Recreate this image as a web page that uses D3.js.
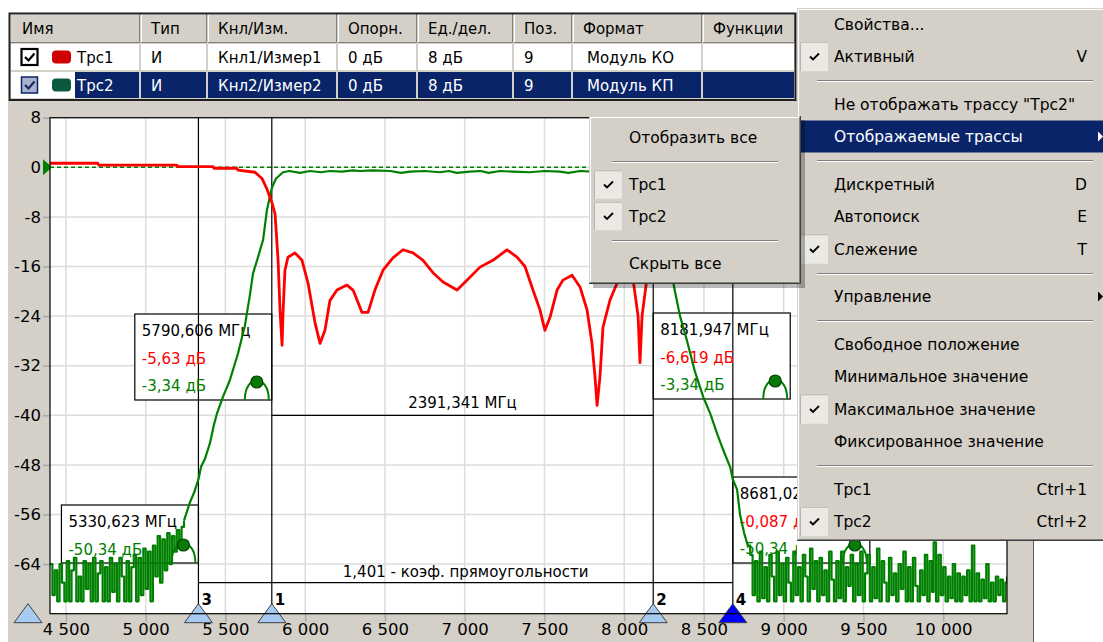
<!DOCTYPE html>
<html>
<head>
<meta charset="utf-8">
<script src="https://cdn.jsdelivr.net/npm/d3@7"></script>
<style>
  body { margin: 0; background: #fff; }
  svg { display: block; font-family: "DejaVu Sans", sans-serif; }
</style>
</head>
<body>
<svg id="c" width="1103" height="642"></svg>
<script>
// ---- данные ----
const colNames = ['Имя', 'Тип', 'Кнл/Изм.', 'Опорн.', 'Ед./дел.', 'Поз.', 'Формат', 'Функции'];
const rows = [
  ['Трс1', 'И', 'Кнл1/Измер1', '0 дБ', '8 дБ', '9', 'Модуль КО', ''],
  ['Трс2', 'И', 'Кнл2/Измер2', '0 дБ', '8 дБ', '9', 'Модуль КП', '']
];
const xTicks = [4500, 5000, 5500, 6000, 6500, 7000, 7500, 8000, 8500, 9000, 9500, 10000];
const yTicks = [8, 0, -8, -16, -24, -32, -40, -48, -56, -64];

// Трс1 – модуль КО (МГц, дБ)
const trc1 = [
  [4400, 0.65], [4700, 0.65], [4706, 0.35], [5196, 0.35], [5202, 0.1], [5422, 0.1], [5428, -0.15],
  [5572, -0.15], [5578, -0.45], [5685, -0.8], [5729, -1.8], [5760, -3.5], [5790.6, -5.63], [5811, -7.5],
  [5830, -15], [5842, -23], [5855, -28.7], [5861, -23.5], [5873, -16.6], [5892, -14.5], [5936, -13.8],
  [5980, -15], [6018, -18.7], [6061, -25], [6093, -28.4], [6124, -26.3], [6155, -21.5], [6199, -19.8],
  [6262, -19], [6300, -19.8], [6356, -23.4], [6394, -23.4], [6437, -19.8], [6488, -16.6], [6550, -14.6],
  [6613, -13.3], [6676, -13.8], [6739, -15], [6801, -17], [6864, -18.5], [6952, -19.8], [7014, -18.2],
  [7096, -16.1], [7177, -15], [7265, -13.3], [7328, -14.5], [7378, -16], [7428, -19.8], [7472, -23],
  [7503, -26.3], [7535, -24.2], [7579, -19.8], [7616, -18.2], [7673, -17.4], [7723, -19.3], [7767, -23],
  [7798, -28.4], [7817, -33.8], [7830, -38.4], [7848, -33.8], [7867, -25.8], [7911, -21.4], [7955, -18.7],
  [8018, -17.7], [8055, -18], [8087, -24], [8099, -31.5], [8112, -24], [8137, -19], [8162, -12],
  [8181.9, -6.62], [8206, -3], [8256, -1], [8350, -0.3], [8681, -0.087], [9100, 0.2], [9700, 0.3], [10400, 0.4]
];

// Трс2 – модуль КП (МГц, дБ): шум ниже полосы, полоса со скатами, шум выше полосы
const trc2Low = [
  [4400, -64], [4415, -69], [4430, -65], [4445, -70], [4460, -64], [4475, -67], [4490, -70], [4505, -63.5],
  [4520, -70], [4535, -65], [4550, -63], [4565, -70], [4580, -66], [4595, -70], [4610, -63.5], [4625, -68],
  [4640, -64], [4655, -70], [4670, -63], [4685, -70], [4700, -65.5], [4715, -63.5], [4730, -70], [4745, -64.5],
  [4760, -70], [4775, -63], [4790, -68.5], [4805, -64], [4820, -70], [4835, -63], [4850, -66], [4865, -70],
  [4880, -63.5], [4895, -70], [4910, -64.5], [4925, -62.5], [4940, -70], [4955, -63], [4970, -69], [4985, -61.5],
  [5000, -68], [5015, -62], [5030, -70], [5045, -61], [5060, -66], [5075, -59.5], [5090, -67], [5105, -60],
  [5120, -65], [5135, -59], [5150, -64], [5165, -59.5], [5180, -62], [5195, -58.5], [5210, -60.5], [5225, -58],
  [5240, -57]
];
const trc2Band = [
  [5240, -57], [5278, -54], [5303, -52.5], [5330.6, -50.34], [5347, -48.3], [5372, -47], [5403, -44.5],
  [5428, -41.5], [5447, -39.7], [5485, -37], [5528, -34.3], [5579, -30], [5622, -25.5], [5654, -20.5],
  [5673, -17.1], [5704, -14.5], [5736, -11.7], [5760, -6.9], [5790.6, -3.34], [5817, -1.8], [5861, -0.8],
  [5900, -0.6], [5967, -0.9], [6030, -0.6], [6100, -0.8], [6155, -0.6], [6230, -0.7], [6300, -0.5],
  [6343, -0.6], [6420, -0.5], [6532, -0.6], [6600, -0.9], [6657, -0.7], [6750, -0.6], [6845, -0.8],
  [6900, -0.6], [6950, -0.9], [7033, -0.7], [7100, -0.6], [7150, -0.9], [7221, -0.6], [7300, -0.7],
  [7409, -0.8], [7500, -0.6], [7597, -0.7], [7650, -0.9], [7723, -0.6], [7800, -0.7], [7848, -0.8],
  [7973, -0.9], [8060, -1.1], [8099, -1.3], [8150, -2],
  [8181.9, -3.34], [8224, -8], [8275, -14], [8318, -20], [8350, -24], [8394, -28], [8444, -33], [8495, -37],
  [8539, -39.7], [8583, -43], [8621, -45.6], [8665, -48.4], [8681, -50.34], [8708, -52], [8726, -56],
  [8752, -59], [8775, -61]
];
const trc2High = [
  [8775, -61], [8790, -62.5], [8805, -69], [8820, -63.5], [8835, -70], [8850, -62], [8865, -69.5], [8880, -64.5],
  [8895, -70], [8910, -62.5], [8925, -66], [8940, -70], [8955, -62], [8970, -69], [8985, -64], [9000, -70],
  [9015, -63], [9030, -67], [9045, -70], [9060, -62], [9075, -69], [9090, -64.5], [9105, -70], [9120, -62.5],
  [9135, -66], [9150, -70], [9165, -61.5], [9180, -68], [9195, -63.5], [9210, -70], [9225, -63], [9240, -69],
  [9255, -65], [9270, -70], [9285, -62], [9300, -66.5], [9315, -70], [9330, -63.5], [9345, -69.5], [9360, -62],
  [9375, -70], [9390, -64.5], [9405, -67.5], [9420, -62.5], [9435, -70], [9450, -64], [9465, -69], [9480, -62],
  [9495, -70], [9510, -65.5], [9525, -62.5], [9540, -70], [9555, -64.5], [9570, -69.5], [9585, -61.5], [9600, -70],
  [9615, -63.5], [9630, -67], [9645, -70], [9660, -63], [9675, -69], [9690, -65.5], [9705, -70], [9720, -64],
  [9735, -68], [9750, -62], [9765, -70], [9780, -64.5], [9795, -70], [9810, -63], [9825, -67.5], [9840, -70],
  [9855, -65], [9870, -69], [9885, -62.5], [9900, -70], [9915, -63.5], [9930, -68.5], [9940, -60.5], [9955, -70],
  [9970, -62.5], [9985, -69], [10000, -64.5], [10015, -70], [10030, -66], [10045, -69.5], [10060, -64],
  [10075, -70], [10090, -65.5], [10105, -70], [10120, -66], [10135, -69], [10150, -65], [10165, -70],
  [10180, -61], [10195, -70], [10210, -65.5], [10225, -70], [10240, -66.5], [10255, -69.5], [10270, -64],
  [10285, -70], [10300, -67], [10315, -70], [10330, -66], [10345, -69], [10360, -66.5], [10375, -70],
  [10390, -67], [10400, -66]
];

// маркеры: номер, частота, значение Трс1, значение Трс2
const markers = [
  { id: 3, f: 5330.623, v1: null, v2: -50.34 },
  { id: 1, f: 5790.606, v1: -5.63, v2: -3.34 },
  { id: 2, f: 8181.947, v1: -6.619, v2: -3.34 },
  { id: 4, f: 8681.023, v1: -0.087, v2: -50.34 }
];
const activeMarker = 4;

const menuItems = [
  { t: 'Свойства...' },
  { t: 'Активный', key: 'V', check: true },
  { sep: true },
  { t: 'Не отображать трассу "Трс2"' },
  { t: 'Отображаемые трассы', sub: true, hl: true },
  { sep: true },
  { t: 'Дискретный', key: 'D' },
  { t: 'Автопоиск', key: 'E' },
  { t: 'Слежение', key: 'T', check: true },
  { sep: true },
  { t: 'Управление', sub: true },
  { sep: true },
  { t: 'Свободное положение' },
  { t: 'Минимальное значение' },
  { t: 'Максимальное значение', check: true },
  { t: 'Фиксированное значение' },
  { sep: true },
  { t: 'Трс1', key: 'Ctrl+1' },
  { t: 'Трс2', key: 'Ctrl+2', check: true }
];
const subItems = [
  { t: 'Отобразить все' },
  { sep: true },
  { t: 'Трс1', check: true },
  { t: 'Трс2', check: true },
  { sep: true },
  { t: 'Скрыть все' }
];

// ---- разметка ----
const GRAY = '#d4d0c8', NAVY = '#0a246a';
const RED = '#ff0000', GREEN = '#008000';
const svg = d3.select('#c');
const plot = { l: 50, r: 1007, t: 117.7, b: 613.7 };

const x = d3.scaleLinear().domain([4400, 10400]).range([plot.l, plot.r]);
const y = d3.scaleLinear().domain([-72, 8]).range([plot.b, plot.t]);
const ru = d3.formatLocale({ decimal: ',', thousands: ' ', grouping: [3], currency: ['', ''] });
const comma = v => String(v).replace('.', ',');

// панель графика
svg.append('rect').attr('x', 8).attr('y', 100).attr('width', 1025).attr('height', 542).attr('fill', GRAY);
svg.append('line').attr('x1', 1033.5).attr('x2', 1033.5).attr('y1', 100).attr('y2', 642).attr('stroke', '#606060');
svg.append('rect').attr('x', plot.l).attr('y', plot.t).attr('width', plot.r - plot.l).attr('height', plot.b - plot.t)
  .attr('fill', '#fff');

svg.append('defs').append('clipPath').attr('id', 'clip')
  .append('rect').attr('x', plot.l).attr('y', plot.t).attr('width', plot.r - plot.l).attr('height', plot.b - plot.t);

// сетка
const grid = svg.append('g').attr('stroke', '#dcdcdc').attr('stroke-width', 1.5);
grid.selectAll('.gx').data(xTicks).enter().append('line')
  .attr('x1', d => x(d)).attr('x2', d => x(d)).attr('y1', plot.t).attr('y2', plot.b);
grid.selectAll('.gy').data(yTicks).enter().append('line')
  .attr('x1', plot.l).attr('x2', plot.r).attr('y1', d => y(d)).attr('y2', d => y(d));

// оси
const axY = svg.append('g').attr('transform', `translate(${plot.l},0)`)
  .call(d3.axisLeft(y).tickValues(yTicks).tickSize(7).tickPadding(2).tickFormat(d => String(d)));
const axX = svg.append('g').attr('transform', `translate(0,${plot.b})`)
  .call(d3.axisBottom(x).tickValues(xTicks).tickSize(8).tickPadding(2).tickFormat(ru.format(',')));
[axY, axX].forEach(a => {
  a.select('.domain').remove();
  a.selectAll('line').attr('stroke', '#a8a8a8').attr('stroke-width', 1.5);
  a.selectAll('text').attr('fill', '#000').style('font-size', '16.5px').style('font-family', '"DejaVu Sans", sans-serif');
});

// окна маркеров
const boxLayout = {
  3: { side: 'left', top: 505, h: 58 },
  1: { side: 'left', top: 314, h: 86 },
  2: { side: 'right', top: 313, h: 86 },
  4: { side: 'right', top: 477, h: 86 }
};
const boxW = 137;
markers.forEach(m => {
  const L = boxLayout[m.id];
  m.x = x(m.f);
  m.bx = L.side === 'left' ? m.x - boxW : m.x;
  m.by = L.top; m.bh = L.h;
});
svg.append('g').selectAll('rect').data(markers).enter().append('rect')
  .attr('x', d => d.bx).attr('y', d => d.by).attr('width', boxW).attr('height', d => d.bh)
  .attr('fill', '#fff').attr('stroke', '#000').attr('stroke-width', 1.2);

// вертикальные линии маркеров
svg.append('g').selectAll('line').data(markers).enter().append('line')
  .attr('x1', d => d.x).attr('x2', d => d.x).attr('y1', plot.t).attr('y2', plot.b)
  .attr('stroke', '#000').attr('stroke-width', 1.2);

// полоса пропускания и коэффициент прямоугольности
const mk = id => markers.find(m => m.id === id);
const bw = mk(2).f - mk(1).f;
const shape = (mk(4).f - mk(3).f) / bw;
const bwY = y(-40), shY = y(-67);
svg.append('line').attr('x1', mk(1).x).attr('x2', mk(2).x).attr('y1', bwY).attr('y2', bwY)
  .attr('stroke', '#000').attr('stroke-width', 1.2);
svg.append('line').attr('x1', mk(3).x).attr('x2', mk(4).x).attr('y1', shY).attr('y2', shY)
  .attr('stroke', '#000').attr('stroke-width', 1.2);
svg.append('text').attr('x', (mk(1).x + mk(2).x) / 2).attr('y', bwY - 7).attr('text-anchor', 'middle')
  .style('font-size', '15px').text(comma(bw.toFixed(3)) + ' МГц');
svg.append('text').attr('x', (mk(3).x + mk(4).x) / 2).attr('y', shY - 6).attr('text-anchor', 'middle')
  .style('font-size', '15px').text(comma(shape.toFixed(3)) + ' - коэф. прямоугольности');

// текст в окнах маркеров (окно 4 частично закрыто меню)
svg.select('defs').append('clipPath').attr('id', 'clipMenu')
  .append('rect').attr('x', 0).attr('y', 0).attr('width', 797).attr('height', 642);
markers.forEach(m => {
  const lines = [{ t: comma(m.f.toFixed(3)) + ' МГц', c: '#000' }];
  if (m.v1 !== null) lines.push({ t: comma(m.v1) + ' дБ', c: RED });
  lines.push({ t: comma(m.v2) + ' дБ', c: GREEN });
  lines.forEach((ln, i) => {
    svg.append('text').attr('x', m.bx + 7).attr('y', m.by + 22 + i * 27.5)
      .attr('clip-path', 'url(#clipMenu)')
      .attr('fill', ln.c).style('font-size', '15px').text(ln.t);
  });
});

// опорный уровень
svg.append('line').attr('x1', plot.l).attr('x2', plot.r).attr('y1', y(0)).attr('y2', y(0))
  .attr('stroke', GREEN).attr('stroke-width', 1.5).attr('stroke-dasharray', '4,3');

// трассы
const line = d3.line().x(d => x(d[0])).y(d => y(d[1]));
const stepLine = d3.line().x(d => x(d[0])).y(d => y(d[1])).curve(d3.curveStepAfter);
const traces = svg.append('g').attr('clip-path', 'url(#clip)');
[[trc2Low, stepLine], [trc2Band, line], [trc2High, stepLine]].forEach(([data, gen]) => {
  traces.append('path').datum(data).attr('d', gen).attr('fill', 'none')
    .attr('stroke', GREEN).attr('stroke-width', 2.2).attr('stroke-linejoin', 'round');
});
traces.append('path').datum(trc1).attr('d', line).attr('fill', 'none')
  .attr('stroke', RED).attr('stroke-width', 2.8).attr('stroke-linejoin', 'round');

// символы маркеров на Трс2
markers.forEach(m => {
  const cx = m.bx + boxW - 15, cy = m.by + m.bh - 18;
  svg.append('path')
    .attr('d', `M${cx - 12},${cy + 18} C${cx - 12},${cy - 8} ${cx + 12},${cy - 8} ${cx + 12},${cy + 18}`)
    .attr('fill', 'none').attr('stroke', GREEN).attr('stroke-width', 2);
  svg.append('circle').attr('cx', cx).attr('cy', cy).attr('r', 6)
    .attr('fill', '#087a08').attr('stroke', '#004000').attr('stroke-width', 1.2);
});

// номера и треугольники маркеров
const tri = (cx, fill) => svg.append('path')
  .attr('d', `M${cx},${plot.b - 10} L${cx + 14},${plot.b + 9} L${cx - 14},${plot.b + 9} Z`)
  .attr('fill', fill).attr('stroke', '#404040').attr('stroke-width', 1);
tri(28, '#a6caf0');
markers.forEach(m => {
  tri(m.x, m.id === activeMarker ? '#0000ff' : '#a6caf0');
  svg.append('text').attr('x', m.x + 3).attr('y', plot.b - 9).style('font-size', '15px')
    .style('font-weight', 'bold').text(m.id);
});
svg.append('path').attr('d', `M${plot.l + 2},${y(0)} L${plot.l - 7},${y(0) - 8} L${plot.l - 7},${y(0) + 8} Z`)
  .attr('fill', GREEN);
svg.append('rect').attr('x', plot.l).attr('y', plot.t).attr('width', plot.r - plot.l).attr('height', plot.b - plot.t)
  .attr('fill', 'none').attr('stroke', '#000').attr('stroke-width', 1.2);

// ---- таблица трасс ----
const colX = [9, 140, 207, 337, 417, 513, 572, 702, 795];
const tb = svg.append('g');
const hT = 13, hB = 43, r1B = 71, r2B = 98;
tb.append('rect').attr('x', colX[0]).attr('y', hT).attr('width', colX[8] - colX[0]).attr('height', r2B - hT + 2)
  .attr('fill', GRAY);
colNames.forEach((c, i) => {
  const x0 = colX[i] + 1, x1 = colX[i + 1];
  tb.append('path').attr('d', `M${x0 + 0.5},${hB - 1} V${hT + 1.5} H${x1 - 1}`).attr('stroke', '#fff').attr('fill', 'none');
  tb.append('path').attr('d', `M${x0},${hB - 0.5} H${x1 - 0.5} V${hT + 1}`).attr('stroke', '#808080').attr('fill', 'none');
  tb.append('text').attr('x', colX[i] + (i === 0 ? 13 : 11)).attr('y', hB - 9).style('font-size', '15px').text(c);
});
rows.forEach((r, ri) => {
  const top = ri === 0 ? hB + 1 : r1B + 1, bot = ri === 0 ? r1B - 1 : r2B;
  const sel = ri === 1;
  r.forEach((v, i) => {
    const x0 = i === 0 ? colX[0] + 2 : colX[i] + 1, x1 = colX[i + 1] - 1;
    tb.append('rect').attr('x', x0).attr('y', top).attr('width', x1 - x0).attr('height', bot - top)
      .attr('fill', '#fff');
    if (sel) {
      const hx = i === 0 ? 75 : x0;
      tb.append('rect').attr('x', hx).attr('y', top).attr('width', x1 - hx).attr('height', bot - top).attr('fill', NAVY);
    }
    const tx = i === 0 ? 77 : colX[i] + (i === 6 ? 15 : 11);
    tb.append('text').attr('x', tx).attr('y', bot - 7).attr('fill', sel ? '#fff' : '#000')
      .style('font-size', '15px').text(v);
  });
  // флажок и цвет трассы
  const cyb = (top + bot) / 2;
  tb.append('rect').attr('x', 21.5).attr('y', cyb - 8).attr('width', 16).attr('height', 16)
    .attr('fill', sel ? '#aab0cf' : '#fff').attr('stroke', sel ? NAVY : '#000').attr('stroke-width', sel ? 1.5 : 2.2);
  tb.append('path').attr('d', `M${25},${cyb} l3.5,3.5 l6,-7`).attr('fill', 'none')
    .attr('stroke', sel ? '#1a2a5a' : '#000').attr('stroke-width', 2.2);
  tb.append('rect').attr('x', 52).attr('y', cyb - 6.5).attr('width', 19).attr('height', 13).attr('rx', 4)
    .attr('fill', sel ? '#0c5a3e' : '#d00000');
});
tb.append('rect').attr('x', colX[0] + 0.5).attr('y', hT + 0.5).attr('width', colX[8] - colX[0]).attr('height', r2B - hT + 1.5)
  .attr('fill', 'none').attr('stroke', '#202020').attr('stroke-width', 2);

// ---- контекстные меню ----
function checkBox(g, x0, cy, h) {
  g.append('rect').attr('x', x0).attr('y', cy - h / 2).attr('width', 28).attr('height', h).attr('fill', '#ebe9e4');
  g.append('path').attr('d', `M${x0 + 0.5},${cy + h / 2} V${cy - h / 2 + 0.5} H${x0 + 28}`)
    .attr('fill', 'none').attr('stroke', '#b8b4ac');
  g.append('path').attr('d', `M${x0 + 10},${cy} l3,3 l6,-6`).attr('fill', 'none').attr('stroke', '#000').attr('stroke-width', 1.8);
}

function drawMenu(items, opt) {
  const g = svg.append('g');
  if (opt.shadow) {
    g.append('rect').attr('x', opt.x + 4).attr('y', opt.y + 4).attr('width', opt.w).attr('height', opt.h)
      .attr('fill', '#000').attr('opacity', 0.28);
  }
  g.append('rect').attr('x', opt.x).attr('y', opt.y).attr('width', opt.w).attr('height', opt.h).attr('fill', GRAY);
  g.append('path').attr('d', `M${opt.x + 1.5},${opt.y + opt.h} V${opt.y + 1.5} H${opt.x + opt.w}`)
    .attr('fill', 'none').attr('stroke', '#fff');
  g.append('path').attr('d', `M${opt.x},${opt.y + opt.h - 0.5} H${opt.x + opt.w - 0.5} V${opt.y}`)
    .attr('fill', 'none').attr('stroke', '#404040');
  g.append('path').attr('d', `M${opt.x + 1},${opt.y + opt.h - 1.5} H${opt.x + opt.w - 1.5} V${opt.y + 1}`)
    .attr('fill', 'none').attr('stroke', '#808080');
  let cy = opt.first;
  items.forEach((it, i) => {
    if (it.sep) {
      const sy = Math.round(cy - opt.itemH / 2 + opt.sepH / 2) + 0.5;
      g.append('line').attr('x1', opt.sepX[0]).attr('x2', opt.sepX[1]).attr('y1', sy).attr('y2', sy).attr('stroke', '#808080');
      g.append('line').attr('x1', opt.sepX[0]).attr('x2', opt.sepX[1]).attr('y1', sy + 1).attr('y2', sy + 1).attr('stroke', '#fff');
      cy += opt.sepH;
      return;
    }
    if (it.hl) {
      g.append('rect').attr('x', opt.x + 3).attr('y', cy - 16).attr('width', opt.w).attr('height', 32).attr('fill', NAVY);
    }
    if (it.check) checkBox(g, opt.x + opt.chkX, cy, opt.itemH - 3);
    const col = it.hl ? '#fff' : '#000';
    g.append('text').attr('x', opt.textX).attr('y', cy + 5.5).attr('fill', col).style('font-size', '15.5px').text(it.t);
    if (it.key) {
      g.append('text').attr('x', opt.keyX).attr('y', cy + 5.5).attr('text-anchor', 'end').attr('fill', col)
        .style('font-size', '15.5px').text(it.key);
    }
    if (it.sub) {
      g.append('path').attr('d', `M1098,${cy - 5} l5,5 l-5,5 Z`).attr('fill', it.hl ? '#fff' : '#000');
    }
    if (i < items.length - 1) cy += opt.itemH;
  });
}

drawMenu(menuItems, {
  x: 797, y: 8, w: 320, h: 533, first: 24, itemH: 32.5, sepH: 15,
  textX: 834, keyX: 1087, chkX: 3, sepX: [817, 1093], shadow: false
});
drawMenu(subItems, {
  x: 589, y: 116, w: 212, h: 168, first: 137, itemH: 31.5, sepH: 16,
  textX: 629, keyX: 790, chkX: 5, sepX: [612, 778], shadow: true
});
</script>
</body>
</html>
